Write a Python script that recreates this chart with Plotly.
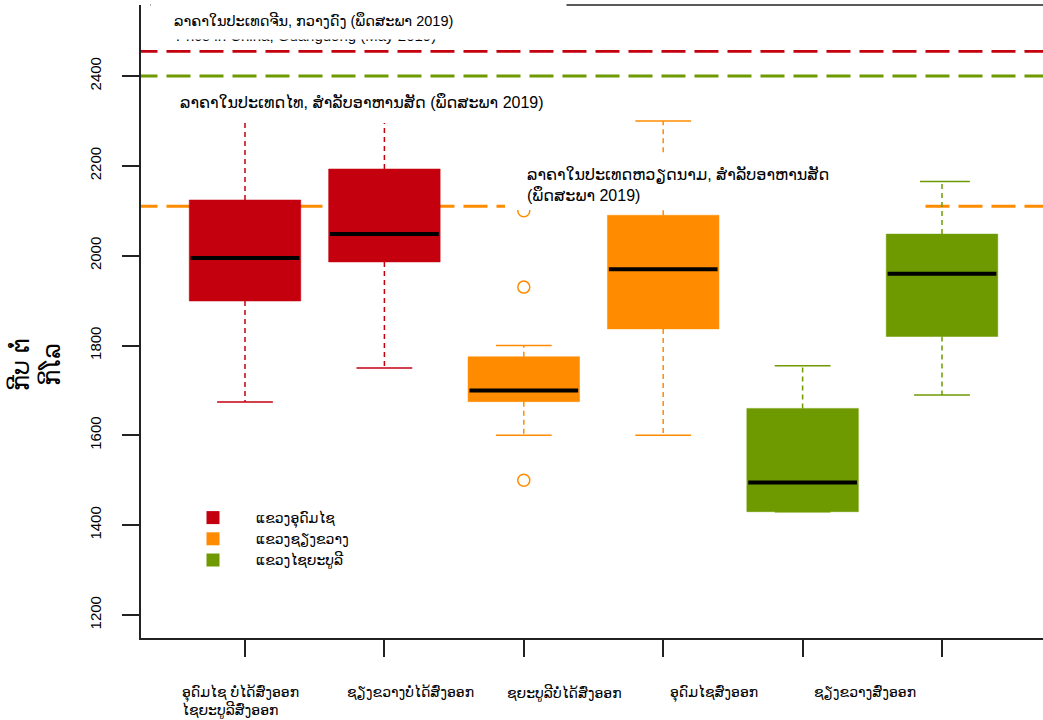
import plotly.graph_objects as go

# ---------------- data ----------------
positions = [1, 2, 3, 4, 5, 6]
box_group = [0, 0, 1, 1, 2, 2]
q1 = [1899, 1986, 1675, 1837, 1430, 1820]
medians = [1995, 2048, 1700, 1970, 1495, 1960]
q3 = [2124, 2193, 1775, 2090, 1660, 2048]
low_whisker = [1674, 1750, 1600, 1600, 1430, 1690]
high_whisker = [2340, 2330, 1800, 2300, 1755, 2165]
outlier_pos = [3, 3, 3]
outlier_vals = [1500, 1930, 2100]

group_names = ["ແຂວງອຸດົມໄຊ", "ແຂວງຊຽງຂວາງ", "ແຂວງໄຊຍະບູລີ"]
group_colors = ["#C4000F", "#FF8C00", "#6E9A00"]

ref_values = [2455, 2400, 2110]
ref_colors = ["#C4000F", "#6E9A00", "#FF8C00"]

x_labels = [
    "ອຸດົມໄຊ ບໍ່ໄດ້ສົ່ງອອກ<br>ໄຊຍະບູລີສົ່ງອອກ",
    "ຊຽງຂວາງບໍ່ໄດ້ສົ່ງອອກ",
    "ຊຍະບູລີບໍ່ໄດ້ສົ່ງອອກ",
    "ອຸດົມໄຊສົ່ງອອກ",
    "ຊຽງຂວາງສົ່ງອອກ",
]
x_label_px = [180, 345, 505, 668, 812]

y_ticks = [1200, 1400, 1600, 1800, 2000, 2200, 2400]
y_title = "ກີບ ຕໍ່<br>ກິໂລ"

china_text = "ລາຄາໃນປະເທດຈີນ, ກວາງດົງ (ພຶດສະພາ 2019)"
china_text_en = "Price in China, Guangdong (May 2019)"
thai_text = "ລາຄາໃນປະເທດໄທ, ສໍາລັບອາຫານສັດ (ພຶດສະພາ 2019)"
viet_text = "ລາຄາໃນປະເທດຫວຽດນາມ, ສໍາລັບອາຫານສັດ<br>(ພຶດສະພາ 2019)"

# ---------------- layout geometry ----------------
W, H = 1043, 720
L, R, T, B = 141, 0, 5, 82
PW = W - L - R
PH = H - T - B


def px(xp):
    return (xp - L) / PW


def py(yp):
    return (H - B - yp) / PH


FONT = "Liberation Sans, Arial, DejaVu Sans, sans-serif"
half_w = 0.4
cap_w = 0.2

fig = go.Figure()

# reference price lines
for v, c in zip(ref_values, ref_colors):
    fig.add_trace(go.Scatter(x=[0.2, 6.8], y=[v, v], mode="lines",
                             line=dict(color=c, width=2.8, dash="24px,9px"),
                             showlegend=False, hoverinfo="skip"))

# boxes
for i, p in enumerate(positions):
    c = group_colors[box_group[i]]
    fig.add_trace(go.Scatter(x=[p, p, None, p, p],
                             y=[q3[i], high_whisker[i], None, q1[i], low_whisker[i]],
                             mode="lines", line=dict(color=c, width=1.5, dash="5px,4px"),
                             showlegend=False, hoverinfo="skip"))
    fig.add_trace(go.Scatter(x=[p - cap_w, p + cap_w, None, p - cap_w, p + cap_w],
                             y=[high_whisker[i], high_whisker[i], None, low_whisker[i], low_whisker[i]],
                             mode="lines", line=dict(color=c, width=1.5),
                             showlegend=False, hoverinfo="skip"))
    fig.add_trace(go.Scatter(x=[p - half_w, p + half_w, p + half_w, p - half_w, p - half_w],
                             y=[q1[i], q1[i], q3[i], q3[i], q1[i]],
                             mode="lines", fill="toself", fillcolor=c,
                             line=dict(color=c, width=0.5),
                             showlegend=False, hoverinfo="skip"))
    fig.add_trace(go.Scatter(x=[p - half_w + 0.01, p + half_w - 0.01], y=[medians[i], medians[i]],
                             mode="lines", line=dict(color="black", width=4),
                             showlegend=False, hoverinfo="skip"))

# outliers
fig.add_trace(go.Scatter(x=outlier_pos, y=outlier_vals, mode="markers",
                         marker=dict(symbol="circle-open", size=12, color=group_colors[1],
                                     line=dict(width=1.5, color=group_colors[1])),
                         showlegend=False, hoverinfo="skip"))

# legend entries
for name, c in zip(group_names, group_colors):
    fig.add_trace(go.Scatter(x=[None], y=[None], mode="markers", name=name,
                             marker=dict(symbol="square", size=13, color=c)))

annotations = []
annotations.append(dict(text=china_text_en, x=px(174), y=py(36), xref="paper", yref="paper",
                        xanchor="left", yanchor="middle", showarrow=False,
                        font=dict(family=FONT, size=15, color="black")))
annotations.append(dict(text="\u00a0", x=px(150), y=py(0), xref="paper", yref="paper",
                        xanchor="left", yanchor="top", showarrow=False, width=415, height=38,
                        bgcolor="white", borderpad=0, font=dict(size=10)))
annotations.append(dict(text=china_text, x=px(172), y=py(20), xref="paper", yref="paper",
                        xanchor="left", yanchor="middle", showarrow=False,
                        font=dict(family=FONT, size=14.5, color="black")))
annotations.append(dict(text=thai_text, x=px(178), y=py(102), xref="paper", yref="paper",
                        xanchor="left", yanchor="middle", showarrow=False,
                        font=dict(family=FONT, size=16, color="black")))
annotations.append(dict(text=viet_text, x=px(525), y=py(184), xref="paper", yref="paper",
                        xanchor="left", yanchor="middle", showarrow=False, align="left",
                        font=dict(family=FONT, size=16, color="black")))
for t, xp in zip(x_labels, x_label_px):
    annotations.append(dict(text=t, x=px(xp), y=py(682), xref="paper", yref="paper",
                            xanchor="left", yanchor="top", showarrow=False, align="left",
                            font=dict(family=FONT, size=14, color="black")))
annotations.append(dict(text=y_title, x=px(35), y=py(365), xref="paper", yref="paper",
                        xanchor="center", yanchor="middle", showarrow=False, textangle=-90,
                        font=dict(family=FONT, size=24, color="black")))

shapes = [
    dict(type="rect", xref="paper", yref="paper", x0=px(165), x1=px(562), y0=py(86), y1=py(123),
         fillcolor="white", line=dict(width=0), layer="above"),
    dict(type="rect", xref="paper", yref="paper", x0=px(505), x1=px(920), y0=py(156), y1=py(210),
         fillcolor="white", line=dict(width=0), layer="above"),
    dict(type="line", xref="paper", yref="paper", x0=px(150), x1=1.0, y0=1, y1=1,
         line=dict(color="#222222", width=1.5), layer="below"),
]

fig.update_layout(
    width=W, height=H,
    margin=dict(l=L, r=R, t=T, b=B, pad=0),
    paper_bgcolor="white", plot_bgcolor="white",
    font=dict(family=FONT, size=15, color="black"),
    showlegend=True,
    legend=dict(x=px(170), y=py(502), xanchor="left", yanchor="top",
                bgcolor="rgba(0,0,0,0)", font=dict(family=FONT, size=14, color="black"),
                itemwidth=76, tracegroupgap=0),
    annotations=annotations,
    shapes=shapes,
    xaxis=dict(range=[(L - 245) / 139.4 + 1, (W - 245) / 139.4 + 1],
               tickvals=positions, showticklabels=False, ticks="outside", ticklen=17,
               tickwidth=1.5, tickcolor="#222222", showline=True, linecolor="#222222",
               linewidth=1.5, showgrid=False, zeroline=False, mirror=False),
    yaxis=dict(range=[1200 - (638 - 615) / 0.44917, 1200 + (615 - 5) / 0.44917],
               tickvals=y_ticks, ticks="outside", ticklen=17, tickwidth=1.5,
               tickcolor="#222222", showline=True, linecolor="#222222", linewidth=1.5,
               showgrid=False, zeroline=False, tickangle=-90, ticklabelstandoff=15,
               tickfont=dict(family=FONT, size=15, color="black")),
)

fig.write_html("out.html", config={"displayModeBar": False},
               post_script="document.body.style.margin='0';document.body.style.overflow='hidden';")
